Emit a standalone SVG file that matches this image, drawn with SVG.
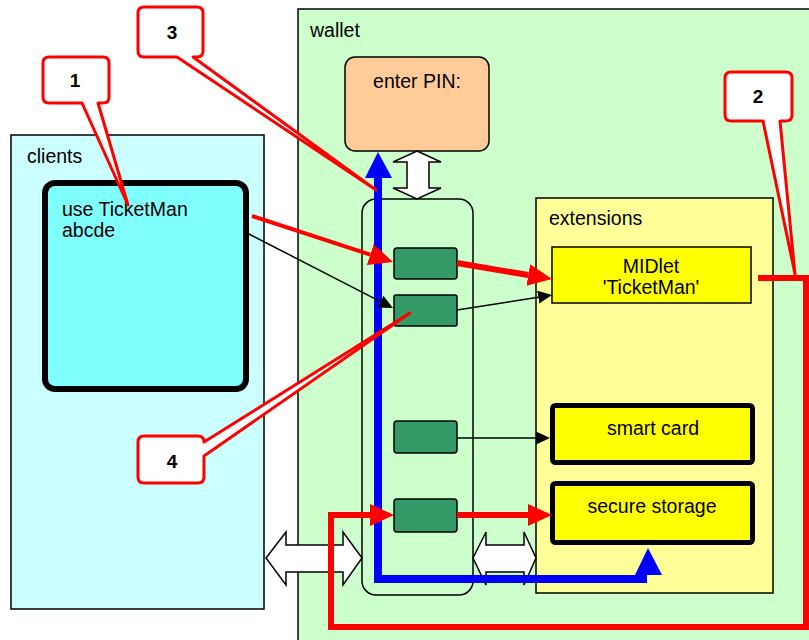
<svg xmlns="http://www.w3.org/2000/svg" width="809" height="640" viewBox="0 0 809 640">
  <style>
    text { font-family: "Liberation Sans", Arial, sans-serif; font-size: 19.5px; fill: #000; }
    .mid { text-anchor: middle; }
    .num { font-weight: bold; text-anchor: middle; font-size: 19px; }
    .frame { stroke: #000; stroke-width: 1.5; }
    .port { fill: #339966; stroke: #000; stroke-width: 1.5; }
    .dbl { fill: #fff; stroke: #000; stroke-width: 1.5; stroke-linejoin: miter; }
    .red { fill: none; stroke: #f00; stroke-linejoin: miter; }
    .thin { fill: none; stroke: #000; stroke-width: 1.5; }
    .callout { fill: #fff; stroke: #f00; stroke-width: 3; stroke-linejoin: round; }
  </style>
  <defs>
    <marker id="redHead" markerUnits="userSpaceOnUse" viewBox="0 -12 25 24" markerWidth="25" markerHeight="24" refX="0" refY="0" orient="auto">
      <path d="M0,-11 L24,0 L0,11 Z" fill="#f00"/>
    </marker>
    <marker id="blackHead" markerUnits="userSpaceOnUse" viewBox="0 -7 15 14" markerWidth="15" markerHeight="14" refX="0" refY="0" orient="auto">
      <path d="M0,-6.5 L14,0 L0,6.5 Z" fill="#000"/>
    </marker>
  </defs>

  <!-- containers -->
  <g id="wallet">
    <rect x="298" y="9" width="520" height="640" fill="#ccffcc" class="frame"/>
    <text x="310" y="37">wallet</text>
  </g>
  <g id="clients">
    <rect x="11" y="135" width="253" height="474" fill="#ccffff" class="frame"/>
    <text x="27" y="163">clients</text>
  </g>
  <g id="client-app">
    <rect x="45" y="183" width="201" height="206" rx="10" fill="#80ffff" stroke="#000" stroke-width="6"/>
    <text x="62" y="216">use TicketMan</text>
    <text x="62" y="237">abcde</text>
  </g>
  <g id="extensions">
    <rect x="536" y="198" width="237" height="395" fill="#ffff99" class="frame"/>
    <text x="549" y="225">extensions</text>
  </g>
  <g id="pin-dialog">
    <rect x="345" y="57" width="144" height="94" rx="10" fill="#ffcc99" class="frame"/>
    <text x="417" y="88" class="mid">enter PIN:</text>
  </g>
  <g id="gateway">
    <rect x="362" y="199" width="111" height="396" rx="14" fill="none" class="frame"/>
  </g>

  <!-- gateway ports -->
  <g id="port1"><rect x="394" y="248" width="63" height="31" rx="3" class="port"/></g>
  <g id="port2"><rect x="394" y="295" width="63" height="31" rx="2" class="port"/></g>
  <g id="port3"><rect x="394" y="421" width="63" height="32" rx="3" class="port"/></g>
  <g id="port4"><rect x="394" y="499" width="63" height="33" rx="3" class="port"/></g>

  <!-- extension components -->
  <g id="midlet">
    <rect x="552" y="247" width="199" height="56" fill="#ffff00" class="frame"/>
    <text x="651" y="273" class="mid">MIDlet</text>
    <text x="651" y="294" class="mid">'TicketMan'</text>
  </g>
  <g id="smart-card">
    <rect x="552.5" y="405.5" width="200" height="57" rx="3" fill="#ffff00" stroke="#000" stroke-width="5"/>
    <text x="653" y="435" class="mid">smart card</text>
  </g>
  <g id="secure-storage">
    <rect x="552.5" y="483.5" width="200" height="59" rx="3" fill="#ffff00" stroke="#000" stroke-width="5"/>
    <text x="652" y="513" class="mid">secure storage</text>
  </g>

  <!-- hollow two-way arrows -->
  <g id="links">
    <path class="dbl" d="M266,558 L286,532 L286,545 L343,545 L343,532 L362,558 L343,585 L343,572 L286,572 L286,585 Z"/>
    <path class="dbl" d="M473,558 L486,532 L486,545 L524,545 L524,532 L536,558 L524,585 L524,572 L486,572 L486,585 Z"/>
    <path class="dbl" d="M417,151 L441,162 L429,162 L429,188 L441,188 L417,199 L393,188 L407,188 L407,162 L393,162 Z"/>
  </g>

  <g id="connectors">
    <!-- PIN path (blue) -->
    <path d="M378,176 V579 H647" fill="none" stroke="#00f" stroke-width="8" stroke-linejoin="miter"/>
    <path d="M365,178 L392,178 L378,152 Z" fill="#00f"/>
    <path d="M635,575 L662,575 L648,548 Z" fill="#00f"/>

    <!-- black calls -->
    <path class="thin" d="M247,233 L380.5,301.6" marker-end="url(#blackHead)"/>
    <path class="thin" d="M457,310 L538.2,297.2" marker-end="url(#blackHead)"/>
    <path class="thin" d="M457,438 L536,438" marker-end="url(#blackHead)"/>

    <!-- red calls -->
    <path class="red" stroke-width="4" d="M252,216 L370.2,254.6" marker-end="url(#redHead)"/>
    <path class="red" stroke-width="6" d="M457,263 L528.3,275" marker-end="url(#redHead)"/>
    <path class="red" stroke-width="6" d="M758,278 H806 V627 H331 V515 H370" marker-end="url(#redHead)"/>
    <path class="red" stroke-width="6" d="M457,515 H528" marker-end="url(#redHead)"/>
  </g>

  <!-- numbered callouts -->
  <g id="callout1">
    <path class="callout" d="M49,57 H103 Q109,57 109,63 V97 Q109,103 103,103 H98 L128,205 L82,103 H49 Q43,103 43,97 V63 Q43,57 49,57 Z"/>
    <text x="75" y="87" class="num">1</text>
  </g>
  <g id="callout2">
    <path class="callout" d="M731,72 H786 Q792,72 792,78 V115 Q792,121 786,121 H780 L795,274 L763,121 H731 Q725,121 725,115 V78 Q725,72 731,72 Z"/>
    <text x="758" y="103" class="num">2</text>
  </g>
  <g id="callout3">
    <path class="callout" d="M144,7 H197 Q203,7 203,13 V51 Q203,57 197,57 H193 L376,190 L177,57 H144 Q138,57 138,51 V13 Q138,7 144,7 Z"/>
    <text x="172" y="39" class="num">3</text>
  </g>
  <g id="callout4">
    <path class="callout" d="M144,436 H198 Q204,436 204,442 L410,313 L204,456 V477 Q204,483 198,483 H144 Q138,483 138,477 V442 Q138,436 144,436 Z"/>
    <text x="172" y="468" class="num">4</text>
  </g>
</svg>
